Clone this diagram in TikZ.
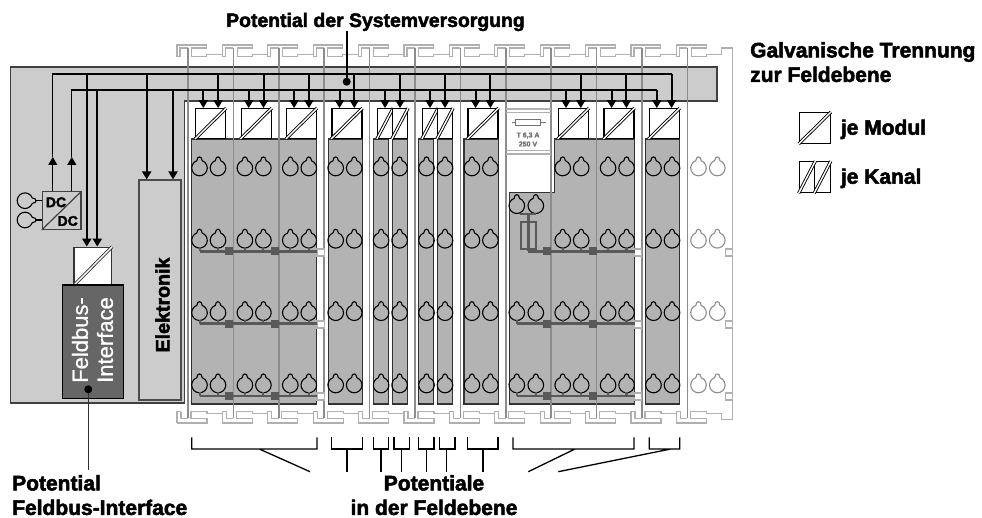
\documentclass[tikz,border=0pt]{standalone}
\usepackage{fontspec}
\setmainfont[BoldFeatures={FakeBold=2.4}]{Liberation Sans}
\newfontfamily\feldfont[FakeBold=1]{Liberation Sans}
\usetikzlibrary{arrows.meta}

\definecolor{panelgray}{HTML}{CCCCCC}
\definecolor{blockgray}{HTML}{B3B3B3}
\definecolor{railgray}{HTML}{B0B0B0}
\definecolor{wallgray}{HTML}{8C8C8C}
\definecolor{busgray}{HTML}{595959}

\tikzset{
  isobox/.style={draw=black, fill=white, line width=1.2pt, minimum height=29.6pt, inner sep=0pt},
  isomodul/.style={isobox, minimum width=30pt},
  isokanal/.style={isobox, minimum width=15pt},
  isoline/.style={double=white, draw=black, line width=.9pt, double distance=1.4pt},
  railline/.style={railgray, line width=1.1pt},
  wire/.style={black, line width=2pt},
  thinwire/.style={black, line width=1.3pt},
  wiretip/.style={-{Triangle[length=8pt,width=9pt]}},
  busline/.style={busgray, line width=2.4pt},
  bracket/.style={black, line width=1.3pt},
  textlabel/.style={font=\fontsize{21}{24.5}\selectfont\bfseries, inner sep=0pt, align=left}
}

% Schluesselloch einer Klemme
\newcommand{\keyhole}[3][black]{
  \draw[#1, line width=1.1pt] (#2,#3) ++(250:7.8) arc[start angle=250, end angle=-70, radius=7.8]
    .. controls +(-.3,-5) and +(.3,-5) .. ++(-5.34,0);
}

\begin{document}
\begin{tikzpicture}[x=1pt,y=-1pt]
  \useasboundingbox (0,0) rectangle (982,518);

  % Grundflaeche mit Band oben
  \draw[fill=panelgray, draw=black!75, line width=1.2pt] (10.5,67) -- (717,67) -- (717,101) -- (184.5,101)
    -- (184.5,403) -- (10.5,403) -- cycle;
  \coordinate (busA) at (671.5,74);
  \coordinate (busB) at (656.7,90);

  % Klemmen
  \foreach \a/\b in {191.7/316.7,328.3/362.3,373.3/388.3,392.3/407.3,418.3/433.7,437.3/452.7,464/498.3,645.7/679.7}
    \draw[fill=blockgray, draw=black!80, line width=1.2pt] (\a,139) rectangle (\b,404);
  \draw[fill=blockgray, draw=black!80, line width=1.2pt] (509.3,192.3) -- (554.3,192.3) -- (554.3,139)
    -- (634.3,139) -- (634.3,404) -- (509.3,404) -- cycle;

  % Profil oben und unten
  \foreach \m in {0,...,11} {
    \begin{scope}[xshift=188pt+45.4pt*\m]
      \draw[railline] (0,48) -- (-8,48) -- (-8,56.7) -- (-11,56.7) -- (-11,45) -- (18.7,45) -- (18.7,48)
        -- (3.7,48) -- (3.7,56.7) -- (18.7,56.7) -- (18.7,54.7) -- (34.4,54.7);
      \draw[railline] (3,418.5) -- (3,411.7) -- (19,411.7) -- (19,413.7) -- (34.4,413.7);
      \draw[railline] (3,418.5) -- (19,418.5) -- (19,423) -- (3,423);
      \draw[wallgray, line width=1.5pt] (0,48) -- (0,418);
    \end{scope}
  }
  \foreach \m in {0,...,10} {
    \begin{scope}[xshift=188pt+45.4pt*\m]
      \draw[railline] (34.4,413.7) -- (34.4,411.7) -- (38.4,411.7) -- (38.4,418.5) -- (45.4,418.5);
      \draw[railline] (34.4,413.7) -- (34.4,423) -- (48.4,423);
    \end{scope}
  }
  \draw[railline] (181,411.7) -- (181,418.5) -- (188,418.5);
  \draw[railline] (177,423) -- (191,423);
  \draw[railline] (177,423) -- (177,411.7) -- (181,411.7);
  \draw[railline] (721.8,54.7) -- (721.8,48) -- (732.8,48) -- (732.8,419.3) -- (721.8,419.3) -- (721.8,413.7);

  % Stege rechts neben den Gruppen
  \foreach \x in {317,634.6,725.4}
    \foreach \y in {249,321,393}
      \draw[railline, fill=white] (\x,\y) rectangle ++(7.3,7);

  % Schluessellocher
  \foreach \m in {0,1,2,3,4,5,6,8,9,10}
    \foreach \y in {168,240.3,312.7,385} {
      \keyhole{188+45.4*\m+11.5}{\y}
      \keyhole{188+45.4*\m+30}{\y}
    }
  \foreach \y in {168,240.3,312.7,385} {
    \keyhole[wallgray]{698.5}{\y}
    \keyhole[wallgray]{717.3}{\y}
  }
  \foreach \y in {205.7,312.7,385} {
    \keyhole{516.8}{\y}
    \keyhole{535.8}{\y}
  }

  % Potentialschienen
  \foreach \y in {251.5,323.7,396} {
    \draw[busline] (199.5,\y) -- (317,\y);
    \foreach \x in {200,218,245,263,290,309}
      \draw[busline] (\x,\y-4) -- (\x,\y);
    \fill[busgray] (225.3,\y-4) rectangle ++(8,8);
    \fill[busgray] (270.7,\y-4) rectangle ++(8,8);
    \foreach \x in {562.7,581.2,608.1,626.6}
      \draw[busline] (\x,\y-4) -- (\x,\y);
    \fill[busgray] (543.3,\y-4) rectangle ++(8,8);
    \fill[busgray] (588.5,\y-4) rectangle ++(8,8);
  }
  \draw[busline] (528.3,251.5) -- (634.6,251.5);
  \foreach \y in {323.7,396} {
    \draw[busline] (516.8,\y) -- (634.6,\y);
    \draw[busline] (516.8,\y-4) -- (516.8,\y);
    \draw[busline] (535.8,\y-4) -- (535.8,\y);
  }

  % Sicherung im Modul
  \draw[busline] (520,214.3) -- (535.7,214.3);
  \draw[busline] (528.3,214.3) -- (528.3,251.5);
  \draw[busgray, line width=1.6pt] (520.7,222.3) rectangle (536,249.3);
  \foreach \y in {109,112.7,150.7,154}
    \draw[railline] (506,\y) -- (551,\y);
  \draw[black!55, line width=.7pt] (511.7,122) -- (545.7,122);
  \draw[black!55, fill=white, line width=.7pt] (515.7,119) rectangle (540.7,125.7);
  \node[black!55, font=\fontsize{7}{9}\selectfont\bfseries, inner sep=0pt, align=center] (fusetext) at (528,139.5) {T 6,3 A\\250 V};

  % Trennstellen
  \foreach \n/\x in {m1/210.7,m2/256.1,m3/301.5,m4/346.9,m5/483,m6/573.4,m7/619,m8/664.2} {
    \node[isomodul] (\n) at (\x,123.5) {};
    \draw[isoline] (\n.south west) -- (\n.north east);
    \draw[wire, wiretip] ([xshift=-7.4pt]\n.north |- busB) -- ([xshift=-7.4pt]\n.north);
    \draw[wire, wiretip] ([xshift=7.4pt]\n.north |- busA) -- ([xshift=7.4pt]\n.north);
  }
  \foreach \n/\x in {k1/385,k2/400,k3/430,k4/445} {
    \node[isokanal] (\n) at (\x,123.5) {};
    \draw[isoline] (\n.south west) -- (\n.north east);
  }
  \draw[wire, wiretip] (k1.north |- busB) -- (k1.north);
  \draw[wire, wiretip] (k2.north |- busA) -- (k2.north);
  \draw[wire, wiretip] (k3.north |- busB) -- (k3.north);
  \draw[wire, wiretip] (k4.north |- busA) -- (k4.north);

  % DC/DC-Wandler
  \node[draw=black!75, fill=panelgray, line width=1.2pt, minimum width=38.7pt, minimum height=37.6pt, inner sep=0pt] (dc) at (61.7,210.5) {};
  \draw[black!75, line width=1.2pt] (dc.south west) -- (dc.north east);
  \node[font=\fontsize{14}{16}\selectfont\bfseries, inner sep=0pt] (dctop) at (56,202.3) {DC};
  \node[font=\fontsize{14}{16}\selectfont\bfseries, inner sep=0pt] (dcbottom) at (67.7,221) {DC};
  \coordinate (keyA) at (35,200.7);
  \coordinate (keyB) at (35,220);
  \foreach \k/\y in {keyA/200.7,keyB/220} {
    \begin{scope}[shift={(25,\y)},rotate=-90]
      \keyhole{0}{0}
    \end{scope}
    \draw[black, line width=1.2pt] (\k) -- (\k -| dc.west);
  }
  \coordinate (tipA) at (52.8,157);
  \coordinate (tipB) at (71.8,157);
  \draw[thinwire] (tipA) |- (busA);
  \draw[thinwire] (tipB) |- (busB);
  \draw[thinwire, wiretip] (tipA |- dc.north) -- (tipA);
  \draw[thinwire, wiretip] (tipB |- dc.north) -- (tipB);

  % Elektronik
  \node[draw=black!70, fill=panelgray, line width=1.2pt, minimum width=42pt, minimum height=220pt, inner sep=0pt] (elek) at (160,290) {};
  \node[rotate=90, textlabel, font=\fontsize{19.6}{24}\selectfont\bfseries] (elektext) at (162.5,305) {Elektronik};
  \draw[wire, wiretip] ([xshift=-13.3pt]elek.north |- busA) -- ([xshift=-13.3pt]elek.north);
  \draw[wire, wiretip] ([xshift=13pt]elek.north |- busB) -- ([xshift=13pt]elek.north);

  % Feldbus-Interface
  \node[isobox, draw=black!80, minimum width=37.7pt, minimum height=38pt] (fiso) at (92.8,266.2) {};
  \draw[isoline, draw=black!80] (fiso.south west) -- (fiso.north east);
  \node[draw=black, fill=black!60, line width=1.2pt, minimum width=61pt, minimum height=113.3pt, inner sep=0pt] (fbus) at (92.8,341.6) {};
  \node[rotate=90, white, font=\fontsize{22}{25}\selectfont\feldfont, inner sep=0pt, align=left] (fbustext) at (92.5,340) {Feldbus-\\Interface};
  \draw[wire, wiretip] ([xshift=-6pt]fiso.north |- busA) -- ([xshift=-6pt]fiso.north);
  \draw[wire, wiretip] ([xshift=4.5pt]fiso.north |- busB) -- ([xshift=4.5pt]fiso.north);
  \coordinate (fbusdot) at (88.3,389.3);
  \coordinate (fbusend) at (88.3,470);
  \draw[black!80, line width=1.6pt] (fbusdot) -- (fbusend);
  \fill[black] (fbusdot) circle (4);

  % Klammern der Feldebene
  \foreach \a/\b/\t in {331.7/362.3/347,373.3/388.3/381,394/409.3/401.7,418.7/434/426.3,439.3/455/446.7,467.7/498/483}
    \draw[bracket] (\a,437.3) |- (\b,449) -- (\b,437.3) (\t,449) -- (\t,471.7);
  \draw[bracket] (191.7,437.3) |- (317,449) -- (317,437.3) (259.3,449) -- (310,471.7);
  \draw[bracket] (513,437.3) |- (634,449) -- (634,437.3) (575,449) -- (528.3,471.7);
  \draw[bracket] (649.3,437.3) |- (679.7,449) -- (679.7,437.3) (670.7,449) -- (558.3,471.7);

  % Beschriftung
  \node[textlabel, font=\fontsize{19.4}{24}\selectfont\bfseries] (syspot) at (375.5,22) {Potential der Systemversorgung};
  \coordinate (sysdot) at (346.7,81.7);
  \draw[wire] (sysdot) -- (sysdot |- syspot.south);
  \fill[black] (sysdot) circle (4);
  \node[textlabel, anchor=north west] (galvanik) at (750,42) {Galvanische Trennung\\zur Feldebene};
  \node[isomodul, minimum width=31pt, minimum height=30.6pt] (legmodul) at (814.8,128) {};
  \draw[isoline] (legmodul.south west) -- (legmodul.north east);
  \node[textlabel, anchor=west] (legmodultext) at (840.7,129.3) {je Modul};
  \node[isokanal, minimum width=15.5pt, minimum height=31pt] (legk1) at (807,177.2) {};
  \node[isokanal, minimum width=15.5pt, minimum height=31pt] (legk2) at (822.5,177.2) {};
  \draw[isoline] (legk1.south west) -- (legk1.north east);
  \draw[isoline] (legk2.south west) -- (legk2.north east);
  \node[textlabel, anchor=west] (legkanaltext) at (840.7,178.3) {je Kanal};
  \node[textlabel, anchor=north west] (fbuspot) at (12,475) {Potential\\Feldbus-Interface};
  \node[textlabel, anchor=north, align=center] (feldpot) at (434,475) {Potentiale\\in der Feldebene};
\end{tikzpicture}
\end{document}
